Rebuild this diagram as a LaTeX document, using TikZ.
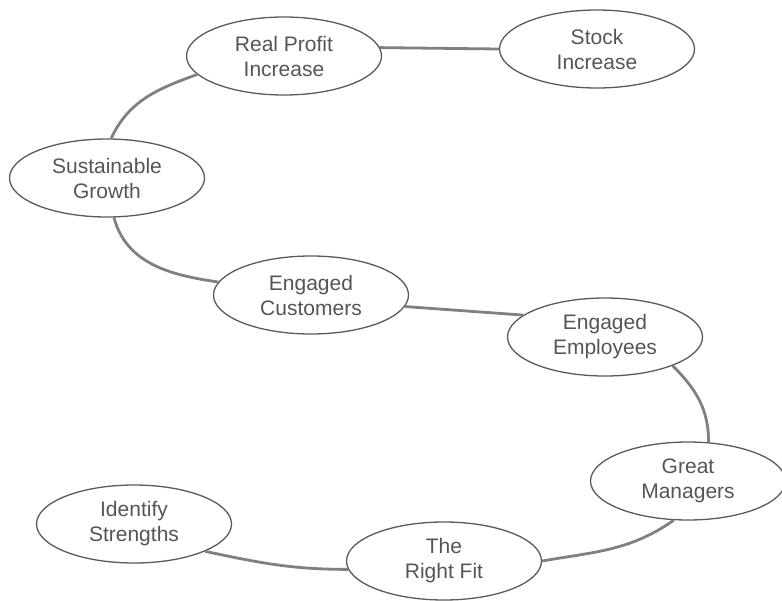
\documentclass[tikz,border=0pt]{standalone}
\usepackage{fontspec}
\setmainfont{Liberation Sans}
\usetikzlibrary{
shapes.geometric,
positioning
}
\definecolor{rimgrey}{HTML}{5A5A5A}
\definecolor{linkgrey}{HTML}{808080}
\definecolor{textgrey}{HTML}{555555}

\begin{document}
\begin{tikzpicture}[x=1pt,y=-1pt,
bubble/.style={ellipse, draw=rimgrey, line width=1.3pt, minimum width=195pt, minimum height=78pt, inner sep=0pt, align=center, text=textgrey, font=\fontsize{21}{25}\selectfont},
link/.style={draw=linkgrey, line width=2.8pt}]

\useasboundingbox (0,0) rectangle (782,600);

% Blasen
\node[bubble] (profit) at (284,56) {Real Profit\\Increase};
\node[bubble] (stock) at (597,49) {Stock\\Increase};
\node[bubble] (growth) at (107,178) {Sustainable\\Growth};
\node[bubble] (customers) at (311,295) {Engaged\\Customers};
\node[bubble] (employees) at (605,337) {Engaged\\Employees};
\node[bubble] (managers) at (688,481) {Great\\Managers};
\node[bubble] (fit) at (444,561) {The\\Right Fit};
\node[bubble] (strengths) at (134,524) {Identify\\Strengths};

% Verbindungen
\draw[link] (profit.5) -- (stock.west);
\draw[link] (growth.84) to[out=65, in=200] (profit.192);
\draw[link] (growth.-80) to[out=-75, in=172] (customers.172);
\draw[link] (customers.-7) -- (employees.165);
\draw[link] (employees.-23) to[out=-45, in=90] (managers.62);
\draw[link] (managers.-110) to[out=-145, in=10] (fit.east);
\draw[link] (strengths.-21) to[out=-12, in=180] (fit.185);

\end{tikzpicture}
\end{document}
